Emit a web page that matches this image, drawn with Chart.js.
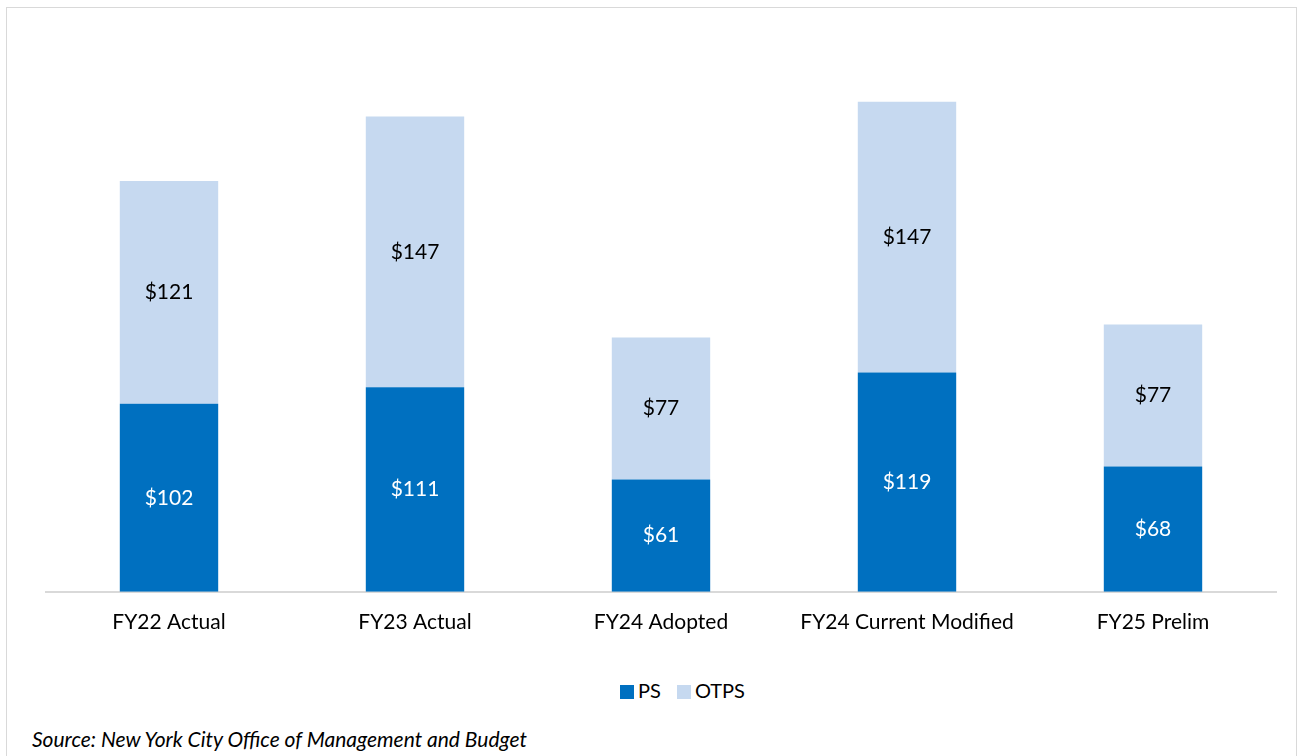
<!DOCTYPE html>
<html>
<head>
<meta charset="utf-8">
<script src="https://cdn.jsdelivr.net/npm/chart.js@4.4.1/dist/chart.umd.min.js"></script>
<style>
  body { margin: 0; background: #fff; width: 1299px; height: 756px; overflow: hidden; position: relative; }
  #frame { position: absolute; left: 6px; top: 7px; width: 1289px; height: 760px; border: 1px solid #d9d9d9; }
  #wrap { position: absolute; left: 6px; top: 7px; width: 1290px; height: 657px; }
  #legend { position: absolute; left: 612px; top: 678px; white-space: nowrap; font-family: Lato, sans-serif; font-size: 20px; line-height: 24px; color: #000; }
  #legend span.item { display: inline-block; margin: 0 8px; }
  #legend i { display: inline-block; width: 14px; height: 14px; margin-right: 4px; vertical-align: -1px; }
  #source { position: absolute; left: 32px; top: 726px; font-family: Lato, sans-serif; font-style: italic; font-size: 21px; color: #000; }
</style>
</head>
<body>
<div id="frame"></div>
<div id="wrap"><canvas id="budgetChart"></canvas></div>
<div id="legend"></div>
<div id="source">Source: New York City Office of Management and Budget</div>
<script>
// values in $ millions
var categories = ['FY22 Actual', 'FY23 Actual', 'FY24 Adopted', 'FY24 Current Modified', 'FY25 Prelim'];
var psValues = [102, 111, 61, 119, 68];
var otpsValues = [121, 147, 77, 147, 77];

document.addEventListener('DOMContentLoaded', function () {
    var ctx = document.getElementById('budgetChart').getContext('2d');

    // draws the $ labels in the middle of each segment
    var segmentLabels = {
        id: 'segmentLabels',
        afterDatasetsDraw: function (chart) {
            var c = chart.ctx;
            c.save();
            c.font = '21px Lato, sans-serif';
            c.textAlign = 'center';
            c.textBaseline = 'middle';
            chart.data.datasets.forEach(function (ds, di) {
                var meta = chart.getDatasetMeta(di);
                meta.data.forEach(function (bar, i) {
                    var mid = (bar.y + bar.base) / 2;
                    c.fillStyle = di === 0 ? '#ffffff' : '#000000';
                    c.fillText('$' + ds.data[i], bar.x, mid);
                });
            });
            c.restore();
        }
    };

    var chart = new Chart(ctx, {
        type: 'bar',
        data: {
            labels: categories,
            datasets: [
                { label: 'PS', data: psValues, backgroundColor: '#0070C0' },
                { label: 'OTPS', data: otpsValues, backgroundColor: '#C6D9F0' }
            ]
        },
        options: {
            responsive: true,
            maintainAspectRatio: false,
            animation: false,
            layout: { padding: { top: 32, left: 40, right: 20, bottom: 11 } },
            datasets: { bar: { categoryPercentage: 0.8, barPercentage: 0.5 } },
            scales: {
                x: {
                    stacked: true,
                    grid: { display: false, drawTicks: false },
                    border: { color: '#d9d9d9', width: 2 },
                    ticks: { color: '#000', padding: 18, font: { family: 'Lato, sans-serif', size: 21 } }
                },
                y: {
                    stacked: true,
                    display: false,
                    min: 0,
                    max: 300
                }
            },
            plugins: {
                legend: { display: false },
                tooltip: { enabled: false }
            }
        },
        plugins: [segmentLabels]
    });

    // legend built from the chart's datasets
    var legend = document.getElementById('legend');
    chart.data.datasets.forEach(function (ds) {
        var item = document.createElement('span');
        item.className = 'item';
        item.innerHTML = '<i style="background:' + ds.backgroundColor + '"></i>' + ds.label;
        legend.appendChild(item);
    });
});
</script>
</body>
</html>
